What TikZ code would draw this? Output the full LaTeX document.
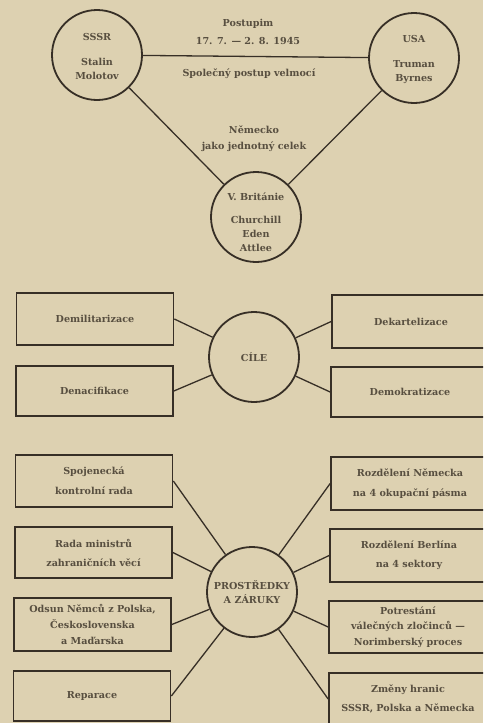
\documentclass[tikz,border=0pt]{standalone}
\usepackage{fontspec}
\setmainfont{DejaVu Serif}
\definecolor{paper}{RGB}{221,209,177}
\definecolor{ink}{RGB}{55,47,38}
\definecolor{txt}{RGB}{88,79,64}
\begin{document}
\begin{tikzpicture}[x=1pt,y=-1pt,
  every node/.style={text=txt, font=\fontsize{9.6}{14}\selectfont\bfseries},
  circ/.style={circle, draw=ink, line width=1.8pt, minimum size=90pt, inner sep=0pt, align=center},
  box/.style={draw=ink, line width=1.7pt, minimum width=157pt, minimum height=52pt, align=center, inner sep=0pt},
  lbl/.style={align=center, inner sep=0pt},
  conn/.style={draw=ink, line width=1.3pt}]
\path[use as bounding box, fill=paper] (0,0) rectangle (483,723);
\clip (0,0) rectangle (483,723);
% top: Potsdam
\node[circ] (sssr) at (97,55) {};
\node[circ] (usa) at (414,58) {};
\node[circ] (brit) at (256,217) {};
\node[lbl] (sssrT) at (97,57) {SSSR\\[11pt]Stalin\\Molotov};
\node[lbl] (usaT) at (414,59.5) {USA\\[11pt]Truman\\Byrnes};
\node[lbl] (britT) at (256,222) {V. Británie\\[9pt]Churchill\\Eden\\Attlee};
\node[lbl] (post) at (248,32) {Postupim\\[4pt]17. 7. — 2. 8. 1945};
\node[lbl] (spol) at (249,74) {Společný postup velmocí};
\node[lbl] (nem) at (254,139) {Německo\\[2pt]jako jednotný celek};
\draw[conn] (sssr) -- (usa);
\draw[conn] (sssr) -- (brit);
\draw[conn] (usa) -- (brit);
% middle: goals
\node[circ] (cile) at (254,357) {CÍLE};
\node[box] (demil) at (95,319) {Demilitarizace};
\node[box, minimum height=50pt] (denac) at (94.5,391) {Denacifikace};
\node[box, minimum width=158pt, minimum height=53pt] (dekart) at (411,321.5) {Dekartelizace};
\node[box, minimum width=158pt, minimum height=50pt] (demokr) at (410,392) {Demokratizace};
\draw[conn] (demil.east) -- (cile);
\draw[conn] (denac.east) -- (cile);
\draw[conn] (dekart.west) -- (cile);
\draw[conn] (demokr.west) -- (cile);
% bottom: means
\node[circ] (prost) at (252,592) {PROSTŘEDKY\\A ZÁRUKY};
\node[box] (spoj) at (94,481) {Spojenecká\\[6pt]kontrolní rada};
\node[box, minimum height=51pt] (rada) at (93.5,552.5) {Rada ministrů\\[5pt]zahraničních věcí};
\node[box, minimum height=53pt] (odsun) at (92.5,624.5) {Odsun Němců z Polska,\\[2pt]Československa\\[2pt]a Maďarska};
\node[box, minimum height=50pt] (repar) at (92,696) {Reparace};
\node[box, minimum width=158pt, minimum height=53pt] (rozdN) at (410,483.5) {Rozdělení Německa\\[6pt]na 4 okupační pásma};
\node[box, minimum width=158pt, minimum height=53pt] (rozdB) at (409,555.5) {Rozdělení Berlína\\[5pt]na 4 sektory};
\node[box, minimum width=158pt, minimum height=52pt] (potr) at (408,627) {Potrestání\\[1.5pt]válečných zločinců —\\[1.5pt]Norimberský proces};
\node[box, minimum width=158pt, minimum height=52pt] (zmeny) at (408,699) {Změny hranic\\[5pt]SSSR, Polska a Německa};
\draw[conn] (spoj.east) -- (prost);
\draw[conn] (rada.east) -- (prost);
\draw[conn] (odsun.east) -- (prost);
\draw[conn] (repar.east) -- (prost);
\draw[conn] (rozdN.west) -- (prost);
\draw[conn] (rozdB.west) -- (prost);
\draw[conn] (potr.west) -- (prost);
\draw[conn] (zmeny.west) -- (prost);
\end{tikzpicture}
\end{document}
